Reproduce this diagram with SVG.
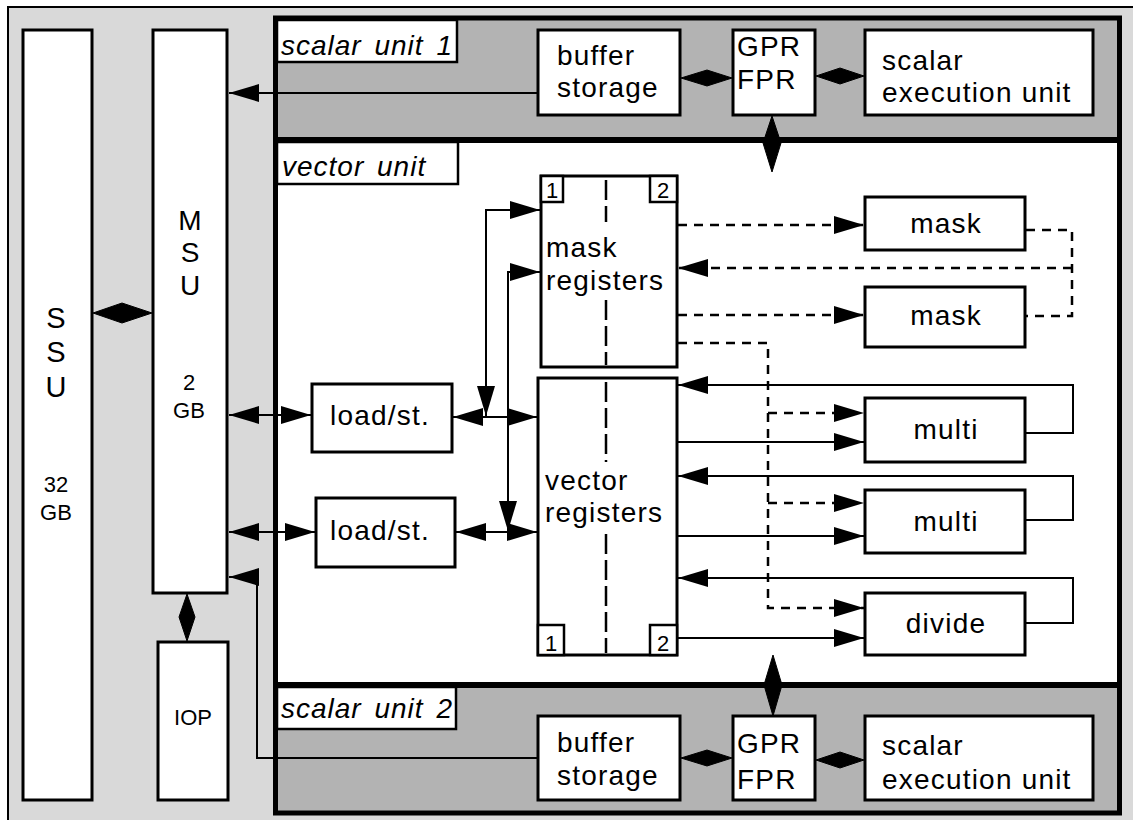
<svg xmlns="http://www.w3.org/2000/svg" width="1133" height="820" viewBox="0 0 1133 820">
<style>
.box{fill:#fff;stroke:#000;stroke-width:3}
.lbl{fill:#fff;stroke:#000;stroke-width:2.5}
.t{font-family:"Liberation Sans",Arial,Helvetica,sans-serif;font-size:28px;letter-spacing:1.2px;fill:#000}
.it{font-family:"Liberation Sans",Arial,Helvetica,sans-serif;font-size:28px;font-style:italic;letter-spacing:1px;word-spacing:4px;fill:#000}
.c{text-anchor:middle}
.s{font-size:22px;letter-spacing:0}
.ln{fill:none;stroke:#000;stroke-width:2}
.dl{fill:none;stroke:#000;stroke-width:2.5;stroke-dasharray:9 7}
.ax{fill:none;stroke:#000;stroke-width:2.5;stroke-dasharray:20 6}
.dbl{fill:#000;stroke:#000;stroke-width:1}
</style>
<defs>
<marker id="ah" markerUnits="userSpaceOnUse" markerWidth="32" markerHeight="20" refX="30" refY="9" orient="auto-start-reverse" viewBox="0 0 32 20">
<path d="M0,0 L30,9 L0,18 z" fill="#000"/>
</marker>
</defs>
<g id="background">
<rect x="0" y="0" width="1133" height="820" fill="#fff"/>
<rect x="8" y="7" width="1140" height="830" fill="#d9d9d9" stroke="#000" stroke-width="2"/>
</g>
<g id="ssu">
<rect class="box" x="23" y="30" width="69" height="770"/>
<text class="t c" x="56" y="328" style="font-size:29px;letter-spacing:0">S</text>
<text class="t c" x="56" y="362" style="font-size:29px;letter-spacing:0">S</text>
<text class="t c" x="56" y="397" style="font-size:29px;letter-spacing:0">U</text>
<text class="t c s" x="56" y="492">32</text>
<text class="t c s" x="56" y="520">GB</text>
</g>
<g id="msu">
<rect class="box" x="153" y="30" width="74" height="563"/>
<text class="t c" x="190" y="230" style="letter-spacing:0">M</text>
<text class="t c" x="190" y="262" style="letter-spacing:0">S</text>
<text class="t c" x="190" y="295" style="letter-spacing:0">U</text>
<text class="t c s" x="189" y="390">2</text>
<text class="t c s" x="189" y="418">GB</text>
</g>
<g id="iop">
<rect class="box" x="158" y="642" width="70" height="158"/>
<text class="t c s" x="193" y="725">IOP</text>
</g>
<g id="cpu-frame">
<rect x="275.5" y="18" width="844" height="795" fill="#b3b3b3" stroke="#000" stroke-width="5"/>
<rect x="278" y="143" width="839" height="539" fill="#fff"/>
<line x1="278" y1="140" x2="1117" y2="140" stroke="#000" stroke-width="6"/>
<line x1="278" y1="685" x2="1117" y2="685" stroke="#000" stroke-width="6"/>
</g>
<g id="label-scalar1">
<rect class="lbl" x="277" y="20" width="180" height="42"/>
<text class="it" x="281" y="55">scalar unit 1</text>
</g>
<g id="label-vector">
<rect class="lbl" x="277" y="142" width="181" height="42"/>
<text class="it" x="282" y="176">vector unit</text>
</g>
<g id="label-scalar2">
<rect class="lbl" x="277" y="687" width="179" height="42"/>
<text class="it" x="281" y="718">scalar unit 2</text>
</g>
<g id="buffer1">
<rect class="box" x="538" y="30" width="142" height="85"/>
<text class="t" x="557" y="65">buffer</text>
<text class="t" x="557" y="97">storage</text>
</g>
<g id="gpr1">
<rect class="box" x="733" y="30" width="82" height="85"/>
<text class="t" x="737" y="56">GPR</text>
<text class="t" x="737" y="89">FPR</text>
</g>
<g id="exec1">
<rect class="box" x="865" y="30" width="228" height="85"/>
<text class="t" x="882" y="70">scalar</text>
<text class="t" x="882" y="102">execution unit</text>
</g>
<g id="buffer2">
<rect class="box" x="538" y="716" width="142" height="84"/>
<text class="t" x="557" y="752">buffer</text>
<text class="t" x="557" y="785">storage</text>
</g>
<g id="gpr2">
<rect class="box" x="733" y="716" width="82" height="84"/>
<text class="t" x="737" y="753">GPR</text>
<text class="t" x="737" y="789">FPR</text>
</g>
<g id="exec2">
<rect class="box" x="865" y="716" width="228" height="84"/>
<text class="t" x="882" y="755">scalar</text>
<text class="t" x="882" y="789">execution unit</text>
</g>
<g id="loadst1">
<rect class="box" x="312" y="384" width="140" height="68"/>
<text class="t" x="330" y="425">load/st.</text>
</g>
<g id="loadst2">
<rect class="box" x="316" y="498" width="139" height="69"/>
<text class="t" x="330" y="540">load/st.</text>
</g>
<g id="mask-registers">
<rect class="box" x="541" y="176" width="136" height="191"/>
<line class="ax" x1="606" y1="180" x2="606" y2="222"/>
<line class="ax" x1="606" y1="300" x2="606" y2="365"/>
<rect class="lbl" x="541" y="176" width="22" height="26" fill="#fff"/>
<text class="t c s" x="552" y="198">1</text>
<rect class="lbl" x="650" y="176" width="27" height="26" fill="#fff"/>
<text class="t c s" x="663" y="198">2</text>
<text class="t" x="546" y="257">mask</text>
<text class="t" x="546" y="290">registers</text>
</g>
<g id="vector-registers">
<rect class="box" x="538" y="378" width="139" height="277"/>
<line class="ax" x1="606" y1="382" x2="606" y2="462"/>
<line class="ax" x1="606" y1="534" x2="606" y2="653"/>
<rect class="lbl" x="538" y="625" width="26" height="30" fill="#fff"/>
<text class="t c s" x="551" y="651">1</text>
<rect class="lbl" x="650" y="625" width="27" height="30" fill="#fff"/>
<text class="t c s" x="663" y="651">2</text>
<text class="t" x="545" y="490">vector</text>
<text class="t" x="545" y="522">registers</text>
</g>
<g id="mask1">
<rect class="box" x="865" y="197" width="160" height="53"/>
<text class="t c" x="946" y="233">mask</text>
</g>
<g id="mask2">
<rect class="box" x="865" y="287" width="160" height="60"/>
<text class="t c" x="946" y="325">mask</text>
</g>
<g id="multi1">
<rect class="box" x="865" y="398" width="160" height="64"/>
<text class="t c" x="946" y="439">multi</text>
</g>
<g id="multi2">
<rect class="box" x="865" y="490" width="160" height="63"/>
<text class="t c" x="946" y="531">multi</text>
</g>
<g id="divide">
<rect class="box" x="865" y="593" width="160" height="62"/>
<text class="t c" x="946" y="633">divide</text>
</g>
<g id="connectors">
<polygon class="dbl" points="93,313 122,303 152,313 122,323"/>
<polygon class="dbl" points="187,594 195,617 187,641 179,617"/>
<polygon class="dbl" points="681,78 707,70 732,78 707,86"/>
<polygon class="dbl" points="816,76 840,68 864,76 840,84"/>
<polygon class="dbl" points="681,758 707,750 732,758 707,766"/>
<polygon class="dbl" points="816,760 840,752 864,760 840,768"/>
<polygon class="dbl" points="772,116 781,143 772,172 763,143"/>
<polygon class="dbl" points="773,655 782,685 773,716 764,685"/>
<path class="ln" d="M538,93 L229,93" marker-end="url(#ah)"/>
<path class="ln" d="M538,758 L257,758 L257,577 L229,577" marker-end="url(#ah)"/>
<path class="ln" d="M229,415 L311,415" marker-start="url(#ah)" marker-end="url(#ah)"/>
<path class="ln" d="M229,532 L315,532" marker-start="url(#ah)" marker-end="url(#ah)"/>
<path class="ln" d="M453,417 L537,417" marker-start="url(#ah)" marker-end="url(#ah)"/>
<path class="ln" d="M456,532 L537,532" marker-start="url(#ah)" marker-end="url(#ah)"/>
<path class="ln" d="M540,210 L486,210 L486,416" marker-start="url(#ah)" marker-end="url(#ah)"/>
<path class="ln" d="M540,272 L508,272 L508,531" marker-start="url(#ah)" marker-end="url(#ah)"/>
<path class="dl" d="M678,225 L864,225" marker-end="url(#ah)"/>
<path class="dl" d="M1026,230 L1072,230 L1072,316 L1026,316"/>
<path class="dl" d="M1072,268 L678,268" marker-end="url(#ah)"/>
<path class="dl" d="M678,315 L864,315" marker-end="url(#ah)"/>
<path class="dl" d="M678,343 L768,343 L768,608 L864,608" marker-end="url(#ah)"/>
<path class="dl" d="M768,413 L864,413" marker-end="url(#ah)"/>
<path class="dl" d="M768,503 L864,503" marker-end="url(#ah)"/>
<path class="ln" d="M678,442 L864,442" marker-end="url(#ah)"/>
<path class="ln" d="M1026,433 L1073,433 L1073,385 L678,385" marker-end="url(#ah)"/>
<path class="ln" d="M678,536 L864,536" marker-end="url(#ah)"/>
<path class="ln" d="M1026,520 L1073,520 L1073,476 L678,476" marker-end="url(#ah)"/>
<path class="ln" d="M678,638 L864,638" marker-end="url(#ah)"/>
<path class="ln" d="M1026,623 L1073,623 L1073,578 L678,578" marker-end="url(#ah)"/>
</g>
</svg>
